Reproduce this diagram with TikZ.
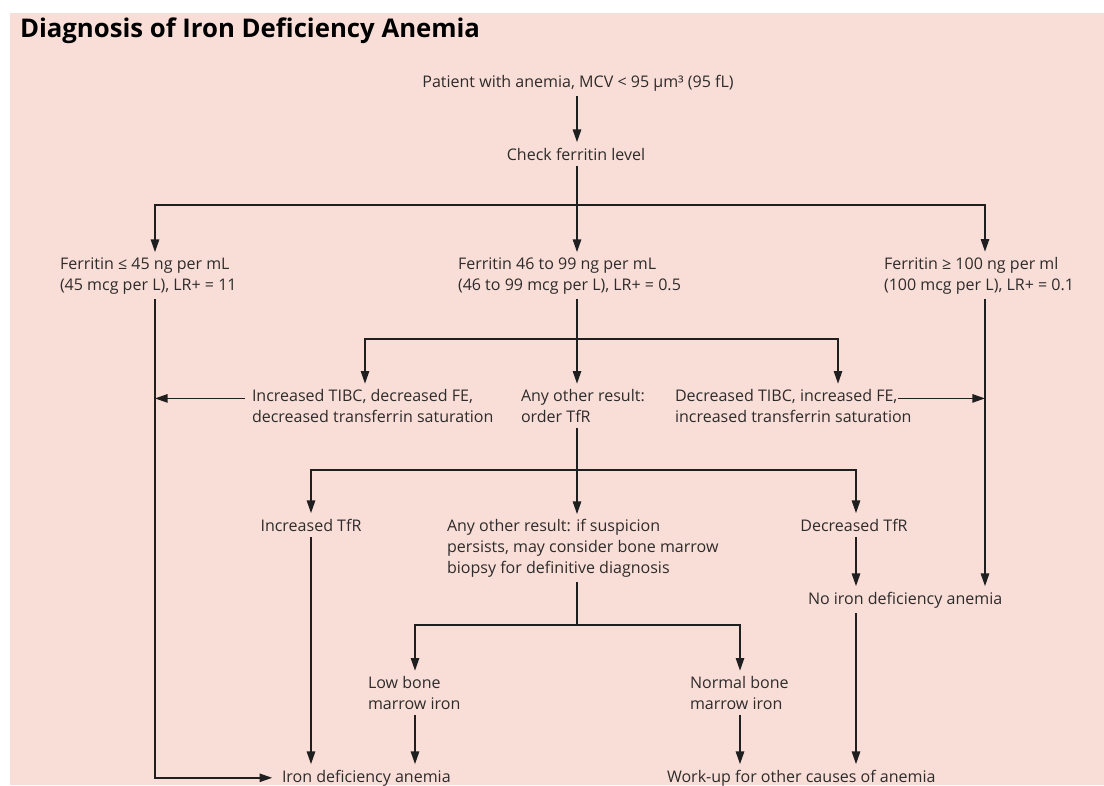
\documentclass[tikz,border=0pt]{standalone}
\usepackage{fontspec}
\setmainfont{Open Sans}
\usetikzlibrary{arrows.meta, calc}
\definecolor{bgpink}{HTML}{F9DED8}
\definecolor{inkgray}{HTML}{2E2B2B}

\begin{document}
\begin{tikzpicture}[
    x=0.025cm, y=-0.025cm,
    txt/.style={inner sep=0pt, outer xsep=0pt, outer ysep=4pt, align=left, text=inkgray, font=\fontsize{11.4}{14.6}\selectfont},
    arrow/.style={-{Triangle[length=9pt, width=6pt]}, line width=1pt, draw=black!88},
    line/.style={line width=1pt, draw=black!88}
]

% Frame
\useasboundingbox (0,0) rectangle (1104,785);
\fill[white] (0,0) rectangle (1104,785);
\fill[bgpink] (10,13) rectangle (1104,785);

% Title
\node[txt, anchor=base west, text=black, font=\fontsize{18.3}{22}\selectfont\bfseries] (title) at (20,37) {Diagnosis of Iron Deficiency Anemia};

% Columns
\coordinate (lcol) at (155,0);
\coordinate (mcol) at (577,0);
\coordinate (rcol) at (985,0);
\coordinate (tcol) at (856,0);

% Steps (multi-line nodes sit on the baseline of their last line)
\node[txt, anchor=base] (patient) at (578,87) {Patient with anemia, MCV < 95 µm³ (95 fL)};
\node[txt, anchor=base] (check) at (576,160) {Check ferritin level};
\node[txt, anchor=base west] (ferlow) at (60,290) {Ferritin ≤ 45 ng per mL\\(45 mcg per L), LR+ = 11};
\node[txt, anchor=base west] (fermid) at (458,290) {Ferritin 46 to 99 ng per mL\\(46 to 99 mcg per L), LR+ = 0.5};
\node[txt, anchor=base west] (ferhigh) at (884,290) {Ferritin ≥ 100 ng per ml\\(100 mcg per L), LR+ = 0.1};
\node[txt, anchor=base west] (tibcup) at (252,422) {Increased TIBC, decreased FE,\\decreased transferrin saturation};
\node[txt, anchor=base west] (ordertfr) at (521,422) {Any other result:\\order TfR};
\node[txt, anchor=base west] (tibcdown) at (675,422) {Decreased TIBC, increased FE,\\increased transferrin saturation};
\node[txt, anchor=base] (tfrup) at (311,531) {Increased TfR};
\node[txt, anchor=base west] (biopsy) at (447,573) {Any other result: if suspicion\\persists, may consider bone marrow\\biopsy for definitive diagnosis};
\node[txt, anchor=base] (tfrdown) at (854,531) {Decreased TfR};
\node[txt, anchor=base west] (noida) at (808,604) {No iron deficiency anemia};
\node[txt, anchor=base west] (lowbm) at (368,709) {Low bone\\marrow iron};
\node[txt, anchor=base west] (normbm) at (690,709) {Normal bone\\marrow iron};
\node[txt, anchor=base west] (ida) at (282,782) {Iron deficiency anemia};
\node[txt, anchor=base west] (workup) at (667,782) {Work-up for other causes of anemia};

% Ferritin split
\draw[arrow] (patient.south -| mcol) -- (check.north -| mcol);
\coordinate (split1) at (577,205);
\draw[line] (check.south -| mcol) -- (split1);
\draw[arrow] (split1) -| (ferlow.north -| lcol);
\draw[arrow] (split1) -- (fermid.north -| mcol);
\draw[arrow] (split1) -| (ferhigh.north -| rcol);

% Iron studies split
\coordinate (split2) at (577,339);
\draw[line] (fermid.south -| mcol) -- (split2);
\draw[arrow] (split2) -| (tibcup.north -| 365,0);
\draw[arrow] (split2) -- (ordertfr.north -| mcol);
\draw[arrow] (split2) -| (tibcdown.north -| 838,0);
\draw[arrow] ([xshift=-5pt, yshift=5.2pt]tibcup.west) -- ([yshift=5.2pt]tibcup.west -| lcol);
\draw[arrow] ([xshift=-10pt, yshift=5.2pt]tibcdown.east) -- ([yshift=5.2pt]tibcdown.east -| rcol);

% TfR split
\coordinate (split3) at (577,470);
\draw[line] (ordertfr.south -| mcol) -- (split3);
\draw[arrow] (split3) -| (tfrup.north -| 311,0);
\draw[arrow] (split3) -- (biopsy.north -| mcol);
\draw[arrow] (split3) -| (tfrdown.north -| tcol);
\draw[arrow] (tfrdown.south -| tcol) -- (noida.north -| tcol);

% Bone marrow split
\coordinate (split4) at (577,625);
\draw[line] (biopsy.south -| mcol) -- (split4);
\draw[arrow] (split4) -| (lowbm.north -| 415,0);
\draw[arrow] (split4) -| (normbm.north -| 740,0);

% Outcomes
\draw[arrow] (ferlow.south -| lcol) |- ([xshift=-7pt]ida.west);
\draw[arrow] (ferhigh.south -| rcol) -- (noida.north -| rcol);
\draw[arrow] (tfrup.south -| 311,0) -- (ida.north -| 311,0);
\draw[arrow] (lowbm.south -| 415,0) -- (ida.north -| 415,0);
\draw[arrow] (normbm.south -| 740,0) -- (workup.north -| 740,0);
\draw[arrow] (noida.south -| tcol) -- (workup.north -| tcol);

\end{tikzpicture}
\end{document}
